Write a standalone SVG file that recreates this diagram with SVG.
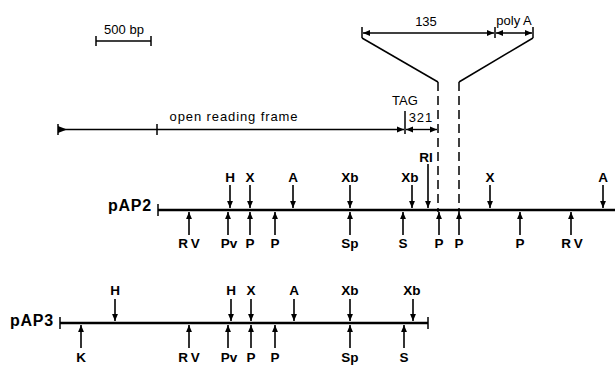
<svg xmlns="http://www.w3.org/2000/svg" width="615" height="366" viewBox="0 0 615 366">
<style>
.ln{stroke:#000;stroke-width:1.5;fill:none}
.map{stroke:#000;stroke-width:2.6;fill:none}
.tk{stroke:#000;stroke-width:1.5;fill:none}
.ar{stroke:#000;stroke-width:1.6;fill:none;marker-end:url(#ah)}
.dr{stroke:#000;stroke-width:1.4;fill:none;marker-start:url(#ahs);marker-end:url(#ah)}
.dash{stroke:#000;stroke-width:1.5;fill:none;stroke-dasharray:9 5}
.t{font-family:"Liberation Sans",Arial,sans-serif;font-size:13px;fill:#000}
.s{font-family:"Liberation Sans",Arial,sans-serif;font-size:13.5px;font-weight:bold;fill:#000;text-anchor:middle}
.nm{font-family:"Liberation Sans",Arial,sans-serif;font-size:16px;font-weight:bold;fill:#000;text-anchor:end;letter-spacing:0.8px}
</style>
<defs>
<marker id="ah" viewBox="0 0 10 10" refX="10" refY="5" markerWidth="8" markerHeight="7" orient="auto" markerUnits="userSpaceOnUse"><path d="M0,0.8 L10,5 L0,9.2 z" fill="#000"/></marker>
<marker id="ahs" viewBox="0 0 10 10" refX="0" refY="5" markerWidth="8" markerHeight="7" orient="auto" markerUnits="userSpaceOnUse"><path d="M10,0.8 L0,5 L10,9.2 z" fill="#000"/></marker>
</defs>

<g id="scale-bar">
<text class="t" x="124" y="34" text-anchor="middle" font-size="14">500 bp</text>
<line class="tk" x1="96" y1="41" x2="151" y2="41"/>
<line class="tk" x1="96" y1="36" x2="96" y2="46"/>
<line class="tk" x1="151" y1="36" x2="151" y2="46"/>
</g>

<g id="orf">
<line class="tk" x1="58" y1="124" x2="58" y2="135"/>
<path d="M58,126 L67,129.5 L58,133 z" fill="#000"/>
<line class="ln" x1="58" y1="129.5" x2="157" y2="129.5"/>
<line class="tk" x1="157" y1="124" x2="157" y2="135"/>
<text class="t" x="234" y="121" text-anchor="middle" font-size="12.5" letter-spacing="0.9">open reading frame</text>
</g>

<g id="tag">
<text class="t" x="405" y="105" text-anchor="middle" font-size="12">TAG</text>
<line class="tk" x1="405" y1="111" x2="405" y2="134"/>
<text class="t" x="421" y="122" text-anchor="middle" letter-spacing="1">321</text>
</g>

<g id="utr-detail">
<line class="tk" x1="362" y1="27" x2="362" y2="38"/>
<line class="tk" x1="495" y1="27" x2="495" y2="38"/>
<line class="tk" x1="533" y1="27" x2="533" y2="38"/>
<text class="t" x="426" y="26" text-anchor="middle" font-size="13.5">135</text>
<text class="t" x="514" y="25" text-anchor="middle" font-size="13.5">poly A</text>
<polyline class="ln" points="362,38 438,82"/>
<polyline class="ln" points="533,38 459,82"/>
<line class="dash" x1="438" y1="82" x2="438" y2="212"/>
<line class="dash" x1="459" y1="82" x2="459" y2="212"/>
</g>

<g id="pAP2">
<text class="nm" x="152" y="211">pAP2</text>
<line class="map" x1="158" y1="210" x2="615" y2="210"/>
<line class="tk" x1="158" y1="204" x2="158" y2="216"/>
<g id="pAP2-sites-top">
<text class="s" x="230" y="182">H</text>
<text class="s" x="250" y="182">X</text>
<text class="s" x="293" y="182">A</text>
<text class="s" x="350" y="182">Xb</text>
<text class="s" x="410" y="182">Xb</text>
<text class="s" x="426" y="162">RI</text>
<text class="s" x="490" y="182">X</text>
<text class="s" x="603" y="182">A</text>
</g>
<g id="pAP2-sites-bottom">
<text class="s" x="190.5" y="248" letter-spacing="3">RV</text>
<text class="s" x="229" y="248">Pv</text>
<text class="s" x="250" y="248">P</text>
<text class="s" x="275" y="248">P</text>
<text class="s" x="350" y="248">Sp</text>
<text class="s" x="403" y="248">S</text>
<text class="s" x="439" y="248">P</text>
<text class="s" x="459" y="248">P</text>
<text class="s" x="520" y="248">P</text>
<text class="s" x="573.5" y="248" letter-spacing="3">RV</text>
</g>
</g>

<g id="pAP3">
<text class="nm" x="54" y="326">pAP3</text>
<line class="map" x1="60" y1="323" x2="428" y2="323"/>
<line class="tk" x1="60" y1="317" x2="60" y2="329"/>
<line class="tk" x1="428" y1="317" x2="428" y2="329"/>
<g id="pAP3-sites-top">
<text class="s" x="115" y="295">H</text>
<text class="s" x="231" y="295">H</text>
<text class="s" x="251" y="295">X</text>
<text class="s" x="294" y="295">A</text>
<text class="s" x="350" y="295">Xb</text>
<text class="s" x="412" y="295">Xb</text>
</g>
<g id="pAP3-sites-bottom">
<text class="s" x="81" y="362">K</text>
<text class="s" x="190.5" y="362" letter-spacing="3">RV</text>
<text class="s" x="229" y="362">Pv</text>
<text class="s" x="251" y="362">P</text>
<text class="s" x="275" y="362">P</text>
<text class="s" x="350" y="362">Sp</text>
<text class="s" x="404" y="362">S</text>
</g>
</g>

<g id="connectors">
<line class="ln" x1="157" y1="129.5" x2="404" y2="129.5" style="marker-end:url(#ah)"/>
<line class="dr" x1="406" y1="129.5" x2="437" y2="129.5"/>
<line class="dr" x1="363" y1="33" x2="494" y2="33"/>
<line class="dr" x1="496" y1="33" x2="532" y2="33"/>
<line class="ar" x1="230" y1="185" x2="230" y2="208"/>
<line class="ar" x1="250" y1="185" x2="250" y2="208"/>
<line class="ar" x1="293" y1="185" x2="293" y2="208"/>
<line class="ar" x1="350" y1="185" x2="350" y2="208"/>
<line class="ar" x1="412" y1="185" x2="412" y2="208"/>
<line class="ar" x1="428" y1="164" x2="428" y2="208"/>
<line class="ar" x1="490" y1="185" x2="490" y2="208"/>
<line class="ar" x1="603" y1="185" x2="603" y2="208"/>
<line class="ar" x1="189" y1="235" x2="189" y2="212"/>
<line class="ar" x1="228" y1="235" x2="228" y2="212"/>
<line class="ar" x1="250" y1="235" x2="250" y2="212"/>
<line class="ar" x1="275" y1="235" x2="275" y2="212"/>
<line class="ar" x1="350" y1="235" x2="350" y2="212"/>
<line class="ar" x1="403" y1="235" x2="403" y2="212"/>
<line class="ar" x1="439" y1="235" x2="439" y2="212"/>
<line class="ar" x1="459" y1="235" x2="459" y2="212"/>
<line class="ar" x1="520" y1="235" x2="520" y2="212"/>
<line class="ar" x1="571" y1="235" x2="571" y2="212"/>
<line class="ar" x1="115" y1="299" x2="115" y2="321"/>
<line class="ar" x1="231" y1="299" x2="231" y2="321"/>
<line class="ar" x1="251" y1="299" x2="251" y2="321"/>
<line class="ar" x1="294" y1="299" x2="294" y2="321"/>
<line class="ar" x1="350" y1="299" x2="350" y2="321"/>
<line class="ar" x1="413" y1="299" x2="413" y2="321"/>
<line class="ar" x1="81" y1="348" x2="81" y2="325"/>
<line class="ar" x1="189" y1="348" x2="189" y2="325"/>
<line class="ar" x1="228" y1="348" x2="228" y2="325"/>
<line class="ar" x1="251" y1="348" x2="251" y2="325"/>
<line class="ar" x1="275" y1="348" x2="275" y2="325"/>
<line class="ar" x1="350" y1="348" x2="350" y2="325"/>
<line class="ar" x1="404" y1="348" x2="404" y2="325"/>
</g>
</svg>
